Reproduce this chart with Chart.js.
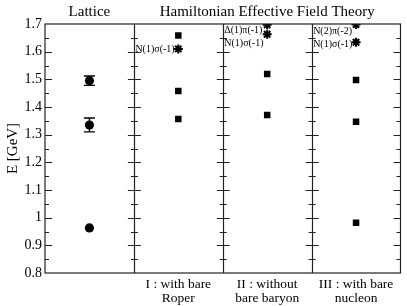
<!DOCTYPE html>
<html>
<head>
<meta charset="utf-8">
<script src="https://cdn.jsdelivr.net/npm/chart.js@4.4.1/dist/chart.umd.min.js"></script>
<style>
  html, body { margin: 0; padding: 0; background: #fff; }
  #wrap { width: 407px; height: 306px; }
</style>
</head>
<body>
<div id="wrap"><canvas id="chart"></canvas></div>
<script>
const SERIF = "'Liberation Serif', 'DejaVu Serif', serif";

// panel centres on the x scale (0..4, one unit per panel)
const panelX = [0.5, 1.5, 2.5, 3.5];
const topTitles = ["Lattice", "Hamiltonian Effective Field Theory"];
const bottomLabels = [
  ["I : with bare", "Roper"],
  ["II : without", "bare baryon"],
  ["III : with bare", "nucleon"],
];

// energies in GeV
const latticeE = [1.495, 1.335, 0.963];
const latticeErr = [0.017, 0.025, 0.006];
const roperE = [1.658, 1.458, 1.357];
const roperThr = [1.61];
const noBaryonE = [1.519, 1.371];
const noBaryonThr = [1.697, 1.663];
const nucleonE = [1.498, 1.347, 0.982];
const nucleonThr = [1.698, 1.634];

// threshold labels: text, panel, energy
const thrText = ["N(1)σ(-1)", "Δ(1)π(-1)", "N(1)σ(-1)", "N(2)π(-2)", "N(1)σ(-1)"];
const thrPanel = [1, 2, 2, 3, 3];
const thrE = [1.61, 1.678, 1.631, 1.673, 1.628];

const majorTicks = [0.9, 1.0, 1.1, 1.2, 1.3, 1.4, 1.5, 1.6];
const minorTicks = [0.85, 0.95, 1.05, 1.15, 1.25, 1.35, 1.45, 1.55, 1.65];

const pts = (x, arr) => arr.map((e) => ({ x: x, y: e }));

const framePlugin = {
  id: "frame",
  afterDatasetsDraw(chart) {
    const { ctx, chartArea: a, scales: { x, y } } = chart;
    ctx.save();
    ctx.strokeStyle = "#222";
    ctx.lineWidth = 1.2;
    ctx.strokeRect(a.left, a.top, a.right - a.left, a.bottom - a.top);

    // panel dividers
    [1, 2, 3].forEach((v) => {
      const px = Math.round(x.getPixelForValue(v)) + 0.5;
      ctx.beginPath();
      ctx.moveTo(px, a.top);
      ctx.lineTo(px, a.bottom);
      ctx.stroke();
    });

    // inward ticks
    const drawTicks = (vals, len) => {
      vals.forEach((v) => {
        const py = Math.round(y.getPixelForValue(v)) + 0.5;
        ctx.beginPath();
        ctx.moveTo(a.left, py);
        ctx.lineTo(a.left + len, py);
        ctx.moveTo(a.right, py);
        ctx.lineTo(a.right - len, py);
        [1, 2, 3].forEach((d) => {
          const px = x.getPixelForValue(d);
          ctx.moveTo(px - len + 1, py);
          ctx.lineTo(px + len, py);
        });
        ctx.stroke();
      });
    };
    drawTicks(majorTicks, 7);
    drawTicks(minorTicks, 4);

    // lattice error bars
    ctx.lineWidth = 1.4;
    ctx.strokeStyle = "#000";
    latticeE.forEach((e, i) => {
      const px = x.getPixelForValue(panelX[0]);
      const hi = y.getPixelForValue(e + latticeErr[i]);
      const lo = y.getPixelForValue(e - latticeErr[i]);
      ctx.beginPath();
      ctx.moveTo(px, hi);
      ctx.lineTo(px, lo);
      if (latticeErr[i] > 0.01) {
        ctx.moveTo(px - 5.5, hi);
        ctx.lineTo(px + 5.5, hi);
        ctx.moveTo(px - 5.5, lo);
        ctx.lineTo(px + 5.5, lo);
      }
      ctx.stroke();
    });

    // threshold labels
    ctx.fillStyle = "#000";
    ctx.font = "10px " + SERIF;
    ctx.textAlign = "left";
    ctx.textBaseline = "middle";
    thrText.forEach((t, i) => {
      ctx.fillText(t, x.getPixelForValue(thrPanel[i]) + 1.5, y.getPixelForValue(thrE[i]));
    });

    // titles
    ctx.font = "15px " + SERIF;
    ctx.textAlign = "center";
    ctx.fillText(topTitles[0], x.getPixelForValue(0.5), 12);
    ctx.fillText(topTitles[1], x.getPixelForValue(2.5), 12);

    ctx.font = "13.5px " + SERIF;
    bottomLabels.forEach((lines, i) => {
      const px = x.getPixelForValue(panelX[i + 1]);
      lines.forEach((l, j) => ctx.fillText(l, px, 284 + j * 14));
    });
    ctx.restore();
  },
};

const square = { pointStyle: "rect", pointRadius: 4.6, backgroundColor: "#000", borderColor: "#000", borderWidth: 0 };
const star = { pointStyle: "star", pointRadius: 4.5, borderColor: "#000", borderWidth: 2, backgroundColor: "#000" };

new Chart(document.getElementById("chart"), {
  type: "scatter",
  data: {
    datasets: [
      { data: pts(panelX[0], latticeE), pointStyle: "circle", pointRadius: 4.6, backgroundColor: "#000", borderColor: "#000", borderWidth: 0 },
      { data: pts(panelX[1], roperE), ...square },
      { data: pts(panelX[1], roperThr), ...star },
      { data: pts(panelX[2], noBaryonE), ...square },
      { data: pts(panelX[2], noBaryonThr), ...star },
      { data: pts(panelX[3], nucleonE), ...square },
      { data: pts(panelX[3], nucleonThr), ...star },
    ],
  },
  options: {
    responsive: true,
    maintainAspectRatio: false,
    animation: false,
    layout: { padding: { top: 24, right: 6, bottom: 33, left: 0 } },
    plugins: { legend: { display: false }, tooltip: { enabled: false } },
    scales: {
      x: {
        type: "linear",
        min: 0,
        max: 4,
        display: false,
        afterFit: (s) => { s.height = 0; },
      },
      y: {
        min: 0.8,
        max: 1.7,
        grid: { display: false, drawTicks: false },
        border: { display: false },
        ticks: {
          stepSize: 0.1,
          padding: 3,
          color: "#000",
          font: { family: SERIF, size: 14 },
          callback: (v) => String(+v.toFixed(2)),
        },
        title: {
          display: true,
          text: "E [GeV]",
          color: "#000",
          font: { family: SERIF, size: 15 },
          padding: { top: 4, bottom: 0 },
        },
        afterFit: (s) => { s.width = 45; },
      },
    },
  },
  plugins: [framePlugin],
});
</script>
</body>
</html>
